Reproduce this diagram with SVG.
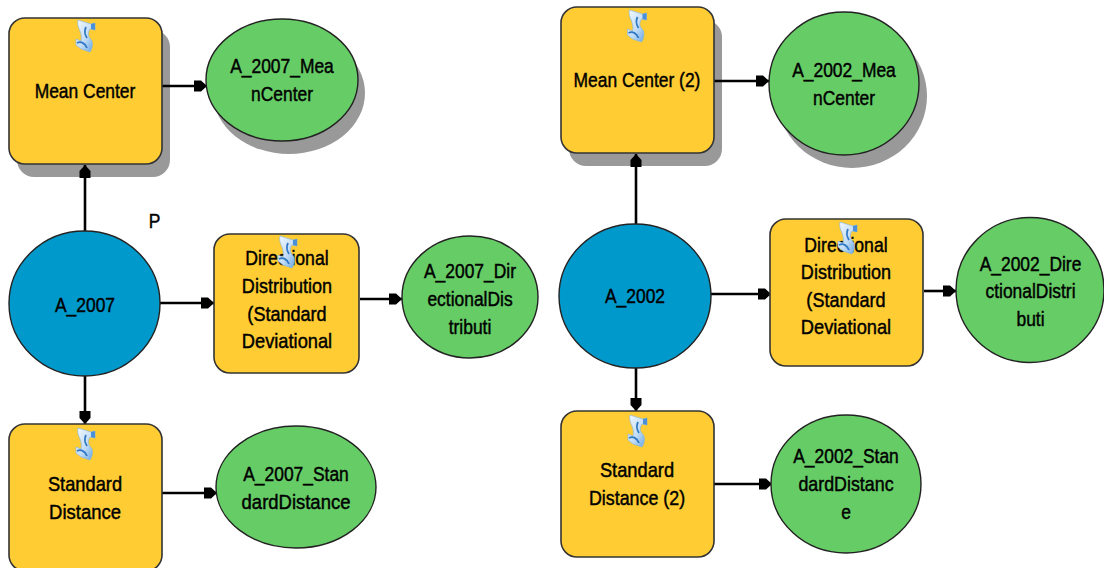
<svg xmlns="http://www.w3.org/2000/svg" width="1104" height="568" viewBox="0 0 1104 568">
<style>
text{font-family:"Liberation Sans",Arial,sans-serif;font-size:21px;fill:#000;text-anchor:middle;stroke:#000;stroke-width:.45px}
.t{fill:#ffcc33;stroke:#333;stroke-width:1.6}
.d{fill:#66cc66;stroke:#222;stroke-width:1.4}
.i{fill:#0099cc;stroke:#222;stroke-width:1.4}
.s{fill:#999;stroke:none}
.c path{fill:none;stroke:#000;stroke-width:2.6}
.sc1{fill:url(#sg);stroke:#7db3e4;stroke-width:.6}
.sc2{fill:none;stroke:#2f78c4;stroke-width:1.8}
.sc3{fill:#4a90d9}
</style>
<defs>
<linearGradient id="sg" x1="0" y1="0" x2="1" y2="1"><stop offset="0" stop-color="#f5faff"/><stop offset=".55" stop-color="#c2dcf5"/><stop offset="1" stop-color="#5a9de0"/></linearGradient>
<marker id="a" markerUnits="userSpaceOnUse" markerWidth="14" markerHeight="13" refX="13" refY="6.500" orient="auto"><path d="M0 1L7 1L13 6.500L7 12L0 12Z" fill="#000"/></marker>
<g id="scroll">
<path class="sc1" d="M-7 -16L6 -12L10 -13L10 -6L5 -7C3 -4 3 -1 4 1L7 5C8 9 7 13 5 16L-4 13L-9 9L-9 3L-4 5C-3 1 -4 -2 -5 -5C-7 -9 -8 -13 -7 -16Z"/>
<path class="sc3" d="M6 -12L10 -13L10 -6L6 -7Z"/>
<path class="sc2" d="M1 -9C-1 -5 0 -1 2 2"/>
<path class="sc2" d="M-8 7C-4 5 0 7 2 12"/>
</g>
</defs>
<g id="shadows">
<rect class="s" x="17" y="30" width="153" height="147" rx="17"/>
<ellipse class="s" cx="289" cy="93" rx="76" ry="61"/>
<rect class="s" x="569" y="20" width="153" height="146" rx="17"/>
<ellipse class="s" cx="852" cy="96" rx="75" ry="72"/>
</g>
<g class="c" id="connectors">
<path marker-end="url(#a)" d="M85 232V165"/>
<path marker-end="url(#a)" d="M162 86H207"/>
<path marker-end="url(#a)" d="M160 303H214"/>
<path marker-end="url(#a)" d="M360 299H402"/>
<path marker-end="url(#a)" d="M85 376V424"/>
<path marker-end="url(#a)" d="M162 493H217"/>
<path marker-end="url(#a)" d="M636 224V154"/>
<path marker-end="url(#a)" d="M714 81H769"/>
<path marker-end="url(#a)" d="M710 294H771"/>
<path marker-end="url(#a)" d="M924 291H956"/>
<path marker-end="url(#a)" d="M636 368V411"/>
<path marker-end="url(#a)" d="M714 484H772"/>
</g>
<g id="n1"><rect class="t" x="9" y="18" width="153" height="146" rx="16"/><use href="#scroll" x="85" y="36"/><text transform="translate(85 98) scale(.83 1)">Mean Center</text></g>
<g id="n2"><ellipse class="d" cx="282" cy="80" rx="76" ry="61"/><text transform="translate(282 73) scale(.83 1)">A_2007_Mea</text><text transform="translate(282 101) scale(.83 1)">nCenter</text></g>
<g id="n3"><ellipse class="i" cx="84.500" cy="303.500" rx="75.500" ry="72.500"/><text transform="translate(85 312) scale(.83 1)">A_2007</text></g>
<g id="n4"><rect class="t" x="214" y="234" width="145" height="139" rx="16"/><text transform="translate(287 265) scale(.84 1)">Directional</text><use href="#scroll" x="287" y="252"/><text transform="translate(287 293) scale(.86 1)">Distribution</text><text transform="translate(287 321) scale(.86 1)">(Standard</text><text transform="translate(287 348) scale(.87 1)">Deviational</text></g>
<g id="n5"><ellipse class="d" cx="470" cy="297" rx="68" ry="61"/><text transform="translate(470 278) scale(.83 1)">A_2007_Dir</text><text transform="translate(470 306) scale(.83 1)">ectionalDis</text><text transform="translate(470 334) scale(.83 1)">tributi</text></g>
<g id="n6"><rect class="t" x="9" y="424" width="153" height="147" rx="16"/><use href="#scroll" x="85" y="444"/><text transform="translate(85 491) scale(.87 1)">Standard</text><text transform="translate(85 519) scale(.88 1)">Distance</text></g>
<g id="n7"><ellipse class="d" cx="296" cy="487" rx="80" ry="61"/><text transform="translate(296 481) scale(.83 1)">A_2007_Stan</text><text transform="translate(296 509) scale(.88 1)">dardDistance</text></g>
<g id="n8"><rect class="t" x="561" y="7" width="153" height="146" rx="16"/><use href="#scroll" x="636.500" y="26"/><text transform="translate(637 87) scale(.83 1)">Mean Center (2)</text></g>
<g id="n9"><ellipse class="d" cx="844" cy="83.500" rx="75" ry="71.500"/><text transform="translate(844 77) scale(.83 1)">A_2002_Mea</text><text transform="translate(844 105) scale(.83 1)">nCenter</text></g>
<g id="n10"><ellipse class="i" cx="635" cy="296" rx="76" ry="72"/><text transform="translate(635 303) scale(.83 1)">A_2002</text></g>
<g id="n11"><rect class="t" x="770" y="219" width="153" height="147" rx="16"/><text transform="translate(846 252) scale(.84 1)">Directional</text><use href="#scroll" x="847" y="238"/><text transform="translate(846 279) scale(.86 1)">Distribution</text><text transform="translate(846 307) scale(.86 1)">(Standard</text><text transform="translate(846 334) scale(.87 1)">Deviational</text></g>
<g id="n12"><ellipse class="d" cx="1030" cy="290" rx="74" ry="72.500"/><text transform="translate(1030.500 271) scale(.83 1)">A_2002_Dire</text><text transform="translate(1030.500 298) scale(.83 1)">ctionalDistri</text><text transform="translate(1030.500 326) scale(.83 1)">buti</text></g>
<g id="n13"><rect class="t" x="561" y="411" width="153" height="146" rx="16"/><use href="#scroll" x="637" y="431"/><text transform="translate(637 477) scale(.87 1)">Standard</text><text transform="translate(637 505) scale(.85 1)">Distance (2)</text></g>
<g id="n14"><ellipse class="d" cx="846" cy="484" rx="75" ry="69"/><text transform="translate(846 463) scale(.83 1)">A_2002_Stan</text><text transform="translate(846 491) scale(.85 1)">dardDistanc</text><text transform="translate(846 519) scale(.83 1)">e</text></g>
<text transform="translate(154.500 228) scale(.83 1)">P</text>
</svg>
